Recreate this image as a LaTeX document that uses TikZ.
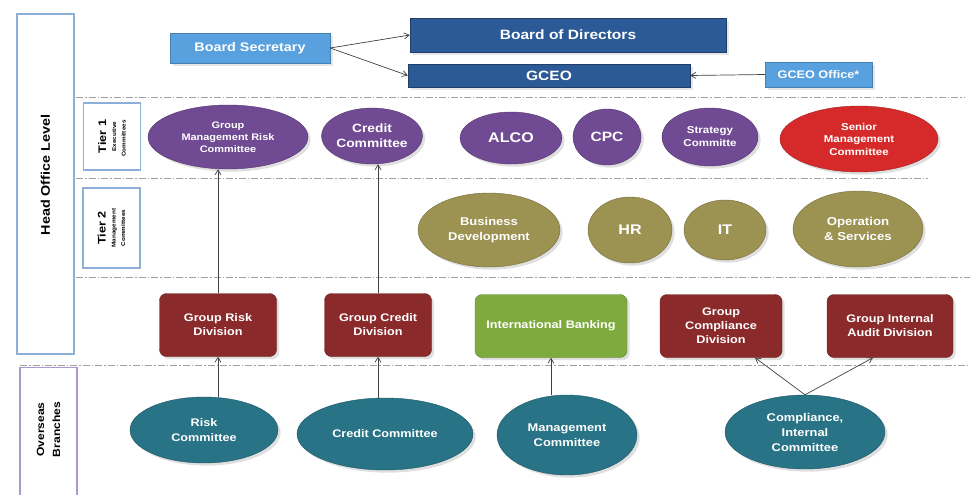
\documentclass[tikz,border=0pt]{standalone}
\usepackage{fontspec}
\setmainfont[FakeStretch=1.15]{Liberation Sans}
\usetikzlibrary{arrows.meta, shapes.geometric, shadows}

\definecolor{bodblue}{RGB}{44,90,150}
\definecolor{secblue}{RGB}{88,160,222}
\definecolor{tierone}{RGB}{112,74,146}
\definecolor{seniorred}{RGB}{214,42,42}
\definecolor{tiertwo}{RGB}{156,146,82}
\definecolor{divred}{RGB}{138,42,42}
\definecolor{intgreen}{RGB}{126,170,62}
\definecolor{branchteal}{RGB}{40,115,134}
\definecolor{frameblue}{RGB}{140,176,216}
\definecolor{framepurple}{RGB}{172,152,204}

\tikzset{
  topbox/.style = {rectangle, inner sep=0pt, fill=bodblue, draw=bodblue!70!black, text=white, font=\bfseries\fontsize{13.5}{15}\selectfont, drop shadow={opacity=0.2}},
  lightbox/.style = {rectangle, inner sep=0pt, fill=secblue, draw=secblue!80!black, text=white, drop shadow={opacity=0.2}},
  oval/.style = {ellipse, inner sep=0pt, align=center, text=white, fill=#1, draw=#1!75!black, drop shadow={opacity=0.25}},
  divbox/.style = {rectangle, rounded corners=7pt, inner sep=0pt, minimum height=63pt, align=center, text=white, fill=#1, draw=#1!75!black, font=\bfseries\fontsize{11}{14}\selectfont, drop shadow={opacity=0.25}},
  frame/.style = {rectangle, rotate=90, inner sep=0pt, align=center, draw=#1, line width=1.6pt, font=\bfseries},
  level/.style = {gray!75, line width=0.8pt, dash pattern=on 7pt off 2pt on 1.5pt off 2pt},
  arr/.style = {-{Straight Barb[length=5pt, width=6pt]}, gray!50!black, line width=0.7pt}
}

\begin{document}
\begin{tikzpicture}[x=1pt, y=-1pt]
\useasboundingbox (0,0) rectangle (970,495);
% level separators
\draw [level] (76,97) -- (965,97);
\draw [level] (76,178) -- (928,178);
\draw [level] (76,277) -- (970,277);
\draw [level] (20,365) -- (970,365);
% side frames
\node [frame=frameblue, minimum width=340pt, minimum height=57pt, font=\bfseries\fontsize{12.5}{14}\selectfont] (head) at (45.5,184) {\hspace*{18pt}Head Office Level};
\node [frame=frameblue, minimum width=67pt, minimum height=57pt] (tier1) at (112,136.5) {\fontsize{11}{12}\selectfont Tier 1\\[-2pt]\fontsize{5.5}{5.5}\selectfont Executive\\[-2.5pt]\fontsize{5.5}{5.5}\selectfont Committees\hspace*{4pt}};
\node [frame=frameblue, minimum width=80pt, minimum height=57pt] (tier2) at (111.5,228) {\fontsize{11}{12}\selectfont Tier 2\\[-2pt]\fontsize{5.5}{5.5}\selectfont Management\\[-2.5pt]\fontsize{5.5}{5.5}\selectfont Committees};
\node [frame=framepurple, minimum width=130pt, minimum height=57pt, font=\bfseries\fontsize{10.5}{16}\selectfont] (branch) at (48.5,432.5) {\hspace*{6pt}Overseas\\\hspace*{6pt}Branches};
% board
\node [topbox, minimum width=316pt, minimum height=34pt] (bod) at (568,35) {Board of Directors};
\node [topbox, minimum width=282pt, minimum height=23pt] (gceo) at (549,75.5) {GCEO};
\node [lightbox, minimum width=160pt, minimum height=30pt, font=\bfseries\fontsize{12.5}{15}\selectfont] (sec) at (250,48) {Board Secretary};
\node [lightbox, minimum width=107pt, minimum height=25pt, font=\bfseries\fontsize{11}{12}\selectfont] (office) at (818.5,74.5) {GCEO Office*};
% tier 1
\node [oval=tierone, minimum width=160pt, minimum height=64pt, font=\bfseries\fontsize{9.5}{12}\selectfont] (gmrc) at (228,137) {Group\\Management Risk\\Committee};
\node [oval=tierone, minimum width=95pt, minimum height=56pt, font=\bfseries\fontsize{12}{15}\selectfont] (credit) at (372,136) {Credit\\Committee};
\node [oval=tierone, minimum width=102pt, minimum height=52pt, font=\bfseries\fontsize{14}{15}\selectfont] (alco) at (511,138) {ALCO};
\node [oval=tierone, minimum width=68pt, minimum height=56pt, font=\bfseries\fontsize{13.5}{15}\selectfont] (cpc) at (607,137) {CPC};
\node [oval=tierone, minimum width=96pt, minimum height=58pt, font=\bfseries\fontsize{10}{13}\selectfont] (strat) at (710,137) {Strategy\\Committe};
\node [oval=seniorred, minimum width=158pt, minimum height=66pt, font=\bfseries\fontsize{10}{12.5}\selectfont] (senior) at (859,139) {Senior\\Management\\Committee};
% tier 2
\node [oval=tiertwo, minimum width=142pt, minimum height=74pt, font=\bfseries\fontsize{11.3}{15}\selectfont] (busdev) at (489,230) {Business\\Development};
\node [oval=tiertwo, minimum width=84pt, minimum height=66pt, font=\bfseries\fontsize{14}{15}\selectfont] (hr) at (630,230) {HR};
\node [oval=tiertwo, minimum width=82pt, minimum height=60pt, font=\bfseries\fontsize{14}{15}\selectfont] (it) at (725,230) {IT};
\node [oval=tiertwo, minimum width=130pt, minimum height=76pt, font=\bfseries\fontsize{11.5}{15}\selectfont] (ops) at (858,229) {Operation\\\& Services};
% divisions
\node [divbox=divred, minimum width=117pt] (grd) at (218,325) {Group Risk\\Division};
\node [divbox=divred, minimum width=107pt] (gcd) at (378,325) {Group Credit\\Division};
\node [divbox=intgreen, minimum width=152pt] (ib) at (551,326) {International Banking};
\node [divbox=divred, minimum width=122pt] (gcomp) at (721,326) {Group\\Compliance\\Division};
\node [divbox=divred, minimum width=126pt] (gia) at (890,326) {Group Internal\\Audit Division};
% overseas branches
\node [oval=branchteal, minimum width=148pt, minimum height=66pt, font=\bfseries\fontsize{11}{15}\selectfont] (rc) at (204,430) {Risk\\Committee};
\node [oval=branchteal, minimum width=176pt, minimum height=72pt, font=\bfseries\fontsize{11}{15}\selectfont] (cc) at (385,434) {Credit Committee};
\node [oval=branchteal, minimum width=140pt, minimum height=80pt, font=\bfseries\fontsize{11.2}{15}\selectfont] (mc) at (567,435) {Management\\Committee};
\node [oval=branchteal, minimum width=160pt, minimum height=74pt, font=\bfseries\fontsize{11.2}{15}\selectfont] (cic) at (805,432) {Compliance,\\Internal\\Committee};
% connectors
\draw [arr] (sec.east) -- (bod.west);
\draw [arr] (sec.east) -- (gceo.west);
\draw [arr] (office.west) -- (gceo.east);
\draw [arr] (grd.north) -- (grd.north |- gmrc.south);
\draw [arr] (gcd.north) -- (gcd.north |- credit.south);
\draw [arr] (rc.north -| grd.south) -- (grd.south);
\draw [arr] (cc.north -| gcd.south) -- (gcd.south);
\draw [arr] (mc.north -| ib.south) -- (ib.south);
\draw [arr] (cic.north) -- ([xshift=34pt]gcomp.south);
\draw [arr] (cic.north) -- ([xshift=-17pt]gia.south);
\end{tikzpicture}
\end{document}
